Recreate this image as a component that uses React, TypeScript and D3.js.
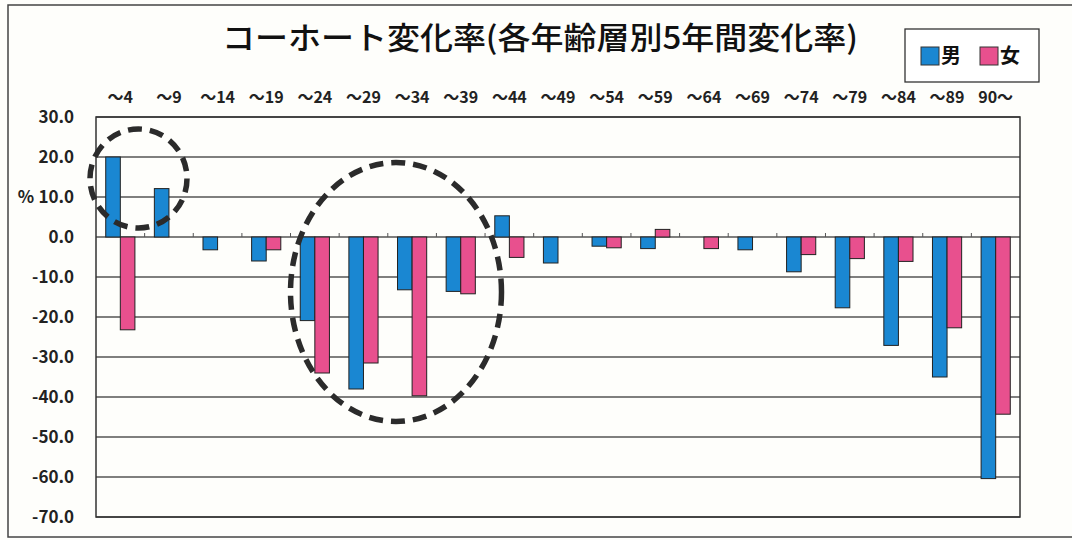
import React, { useEffect, useRef } from 'react';
import * as d3 from 'd3';

// 年齢階級
const categories = ['～4', '～9', '～14', '～19', '～24', '～29', '～34', '～39', '～44', '～49',
  '～54', '～59', '～64', '～69', '～74', '～79', '～84', '～89', '90～'];
const seriesNames = ['男', '女'];
const maleValues = [20.0, 12.1, -3.2, -6.0, -20.9, -38.0, -13.2, -13.6, 5.3, -6.5,
  -2.3, -2.9, 0, -3.2, -8.7, -17.7, -27.1, -35.0, -60.4];
const femaleValues = [-23.2, 0, 0, -3.2, -34.0, -31.5, -39.7, -14.2, -5.1, 0,
  -2.7, 1.9, -2.9, 0, -4.4, -5.4, -6.1, -22.7, -44.3];
const yTicks = [30, 20, 10, 0, -10, -20, -30, -40, -50, -60, -70];
const title = 'コーホート変化率(各年齢層別5年間変化率)';

const colors = ['#1a87d2', '#e8508e'];
const font = '"Noto Sans CJK JP", "Noto Sans", sans-serif';

const App: React.FC = () => {
  const ref = useRef<SVGSVGElement>(null);

  useEffect(() => {
    const svg = d3.select(ref.current);
    svg.selectAll('*').remove();

    const W = 1072, H = 540;
    const margin = { top: 117, right: 52, bottom: 23, left: 96 };

    svg.append('rect').attr('width', W).attr('height', H).attr('fill', '#fefefb');
    // 外枠
    svg.append('rect')
      .attr('x', 8).attr('y', 5).attr('width', 1080).attr('height', 532)
      .attr('fill', 'none').attr('stroke', '#444').attr('stroke-width', 1.5);

    const x0 = d3.scaleBand()
      .domain(categories)
      .range([margin.left, W - margin.right])
      .paddingInner(0.4)
      .paddingOuter(0.2);
    const x1 = d3.scaleBand()
      .domain(seriesNames)
      .range([0, x0.bandwidth()]);
    const y = d3.scaleLinear()
      .domain([-70, 30])
      .range([H - margin.bottom, margin.top]);

    // グリッド
    svg.append('g')
      .selectAll('line')
      .data(yTicks)
      .enter().append('line')
      .attr('x1', margin.left).attr('x2', W - margin.right)
      .attr('y1', d => y(d)).attr('y2', d => y(d))
      .attr('stroke', '#555').attr('stroke-width', 1.3);

    svg.append('rect')
      .attr('x', margin.left).attr('y', margin.top)
      .attr('width', W - margin.right - margin.left)
      .attr('height', H - margin.bottom - margin.top)
      .attr('fill', 'none').attr('stroke', '#333').attr('stroke-width', 1.5);

    // 目盛ラベル
    svg.append('g')
      .selectAll('text')
      .data(yTicks)
      .enter().append('text')
      .attr('x', 74).attr('y', d => y(d))
      .attr('dy', '0.36em')
      .attr('text-anchor', 'end')
      .attr('font-family', font).attr('font-weight', 700)
      .attr('font-size', 17).attr('fill', '#222')
      .text(d => d.toFixed(1));

    svg.append('text')
      .attr('x', 26).attr('y', y(10)).attr('dy', '0.36em')
      .attr('text-anchor', 'middle')
      .attr('font-family', font).attr('font-weight', 700)
      .attr('font-size', 17).attr('fill', '#222')
      .text('%');

    // カテゴリラベル(上)
    svg.append('g')
      .selectAll('text')
      .data(categories)
      .enter().append('text')
      .attr('x', d => x0(d)! + x0.bandwidth() / 2)
      .attr('y', 97).attr('dy', '0.36em')
      .attr('text-anchor', 'middle')
      .attr('font-family', font).attr('font-weight', 700)
      .attr('font-size', 16).attr('fill', '#222')
      .text(d => d);

    // 棒
    const rows = categories.map((c, i) => ({ c, vals: [maleValues[i], femaleValues[i]] }));
    const groups = svg.append('g')
      .selectAll('g')
      .data(rows)
      .enter().append('g')
      .attr('transform', d => `translate(${x0(d.c)},0)`);
    groups.selectAll('rect')
      .data(d => d.vals.map((v, k) => ({ v, k })).filter(e => e.v !== 0))
      .enter().append('rect')
      .attr('x', d => x1(seriesNames[d.k])!)
      .attr('width', x1.bandwidth())
      .attr('y', d => y(Math.max(0, d.v)))
      .attr('height', d => Math.abs(y(d.v) - y(0)))
      .attr('fill', d => colors[d.k])
      .attr('stroke', '#222').attr('stroke-width', 1);

    // ゼロ線の小目盛
    const step = x0.step();
    svg.append('g')
      .selectAll('line')
      .data(categories.slice(1))
      .enter().append('line')
      .attr('x1', d => x0(d)! - step * 0.2)
      .attr('x2', d => x0(d)! - step * 0.2)
      .attr('y1', y(0)).attr('y2', y(0) - 4)
      .attr('stroke', '#555').attr('stroke-width', 1);

    // タイトル
    svg.append('text')
      .attr('x', 222).attr('y', 38).attr('dy', '0.36em')
      .attr('font-family', font).attr('font-weight', 500)
      .attr('font-size', 31).attr('fill', '#111')
      .attr('textLength', 636).attr('lengthAdjust', 'spacingAndGlyphs')
      .text(title);

    // 凡例
    const lg = svg.append('g');
    lg.append('rect')
      .attr('x', 905).attr('y', 29).attr('width', 134).attr('height', 53)
      .attr('fill', '#fff').attr('stroke', '#333').attr('stroke-width', 1.3);
    seriesNames.forEach((s, i) => {
      const lx = 921 + i * 59;
      lg.append('rect')
        .attr('x', lx).attr('y', 47).attr('width', 18).attr('height', 18)
        .attr('fill', colors[i]).attr('stroke', '#333').attr('stroke-width', 1);
      lg.append('text')
        .attr('x', lx + 20).attr('y', 56).attr('dy', '0.36em')
        .attr('font-family', font).attr('font-weight', 700)
        .attr('font-size', 20).attr('fill', '#111')
        .text(s);
    });

    // 破線の丸(注釈)
    const marks = [
      { cx: 138.5, cy: 178.5, rx: 48.5, ry: 49.5 },
      { cx: 396, cy: 292, rx: 105.5, ry: 129.5 },
    ];
    svg.append('g')
      .selectAll('ellipse')
      .data(marks)
      .enter().append('ellipse')
      .attr('cx', d => d.cx).attr('cy', d => d.cy)
      .attr('rx', d => d.rx).attr('ry', d => d.ry)
      .attr('fill', 'none').attr('stroke', '#2b2b2b')
      .attr('stroke-width', 5.5).attr('stroke-dasharray', '14 8');
  }, []);

  return (
    <svg ref={ref} width={1072} height={540}
      style={{ position: 'absolute', left: 0, top: 0 }} />
  );
};

export default App;
